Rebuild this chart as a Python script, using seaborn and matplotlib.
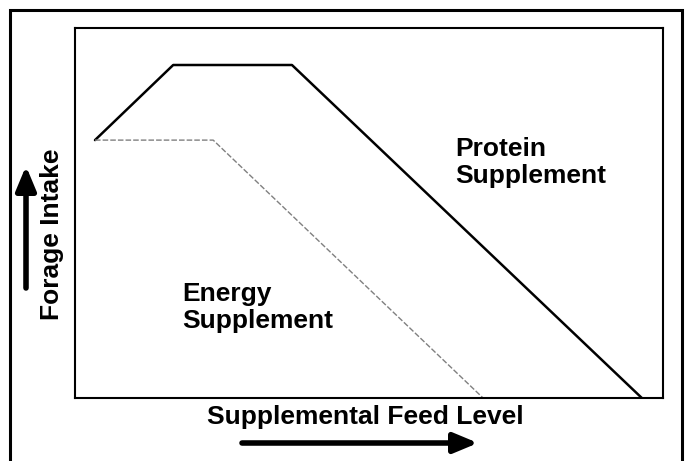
import matplotlib
matplotlib.use("Agg")
import matplotlib.pyplot as plt
import matplotlib.patches as patches
import seaborn as sns
import pandas as pd

# 数据（示意曲线，坐标为 0-100 的相对单位）
protein_x = [3.4, 16.7, 36.9, 96.4]
protein_y = [69.7, 90.0, 90.0, 0.0]
energy_x = [3.4, 23.5, 69.4]
energy_y = [69.7, 69.7, 0.0]

protein_label = "Protein\nSupplement"
energy_label = "Energy\nSupplement"
x_label = "Supplemental Feed Level"
y_label = "Forage Intake"

sns.set_style("white")
plt.rcParams["font.family"] = ["Liberation Sans", "DejaVu Sans"]
plt.rcParams["text.color"] = "black"

fig = plt.figure(figsize=(6.86, 4.61), dpi=100)
W, H = 686, 461
ax = fig.add_axes([75 / W, 1 - 398 / H, (663 - 75) / W, (398 - 28) / H])

df_p = pd.DataFrame({"x": protein_x, "y": protein_y})
df_e = pd.DataFrame({"x": energy_x, "y": energy_y})
sns.lineplot(data=df_p, x="x", y="y", sort=False, color="black", lw=1.8, ax=ax)
sns.lineplot(data=df_e, x="x", y="y", sort=False, color="#808080", lw=1.0,
             linestyle=(0, (4, 1.5)), ax=ax)

ax.set_xlim(0, 100)
ax.set_ylim(0, 100)
ax.set_xticks([])
ax.set_yticks([])
ax.set_xlabel("")
ax.set_ylabel("")
for s in ax.spines.values():
    s.set_visible(True)
    s.set_color("black")
    s.set_linewidth(1.5)

fs = 19
fig.text(455 / W, 1 - 137 / H, protein_label, fontsize=fs, fontweight="bold",
         ha="left", va="top", linespacing=1.18, color="black")
fig.text(182 / W, 1 - 282 / H, energy_label, fontsize=fs, fontweight="bold",
         ha="left", va="top", linespacing=1.18, color="black")
fig.text(365 / W, 1 - 417 / H, x_label, fontsize=fs, fontweight="bold",
         ha="center", va="center", color="black")
fig.text(52 / W, 1 - 234 / H, y_label, fontsize=fs, fontweight="bold",
         ha="center", va="center", rotation=90, color="black")

# 坐标方向箭头
arrow_kw = dict(arrowstyle="-|>,head_length=1.2,head_width=0.5", color="black",
                lw=4, shrinkA=0, shrinkB=0, mutation_scale=12)
fig.add_artist(patches.FancyArrowPatch((242 / W, 1 - 443 / H), (478 / W, 1 - 443 / H),
                                       transform=fig.transFigure, **arrow_kw))
fig.add_artist(patches.FancyArrowPatch((26 / W, 1 - 288 / H), (26 / W, 1 - 166 / H),
                                       transform=fig.transFigure, **arrow_kw))

# 外框
fig.add_artist(patches.Rectangle((10 / W, -0.05), (682 - 10) / W, 1.05 - 10 / H,
                                 transform=fig.transFigure, fill=False,
                                 edgecolor="black", lw=2.2, clip_on=False))

fig.savefig("out.png", dpi=100)
plt.close("all")
